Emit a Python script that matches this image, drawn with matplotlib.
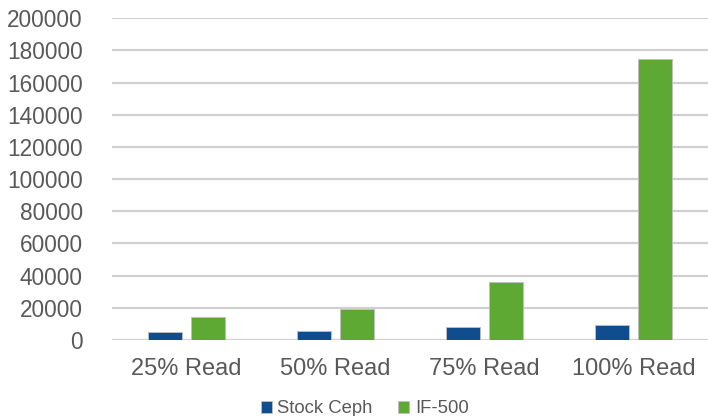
import matplotlib
matplotlib.use("Agg")
import matplotlib.pyplot as plt
import numpy as np

categories = ["25% Read", "50% Read", "75% Read", "100% Read"]
series_names = ["Stock Ceph", "IF-500"]
stock_ceph = [4800, 5800, 7900, 9100]
if_500 = [14100, 19300, 35900, 174500]
y_ticks = list(range(0, 200001, 20000))

plt.rcParams["font.family"] = ["Liberation Sans", "DejaVu Sans"]

fig = plt.figure(figsize=(7.08, 4.16), dpi=100)
ax = fig.add_axes([0.158, 0.1827, 0.842, 0.7733])

x = np.arange(len(categories))
width = 0.228
offset = 0.146
c_ceph = "#0f4d8f"
c_if = "#5ea834"

ax.bar(x - offset, stock_ceph, width, color=c_ceph, edgecolor="#bfbfbf",
       linewidth=0.6, label=series_names[0], zorder=3)
ax.bar(x + offset, if_500, width, color=c_if, edgecolor="#bfbfbf",
       linewidth=0.6, label=series_names[1], zorder=3)

ax.set_xlim(-0.5, len(categories) - 0.5)
ax.set_ylim(0, 200000)
ax.set_yticks(y_ticks)
ax.set_yticklabels([str(v) for v in y_ticks])
ax.set_xticks(x)
ax.set_xticklabels(categories)

ax.grid(axis="y", color="#d0d0d0", linewidth=1.6, zorder=0)
ax.set_axisbelow(True)
for s in ax.spines.values():
    s.set_visible(False)

ax.tick_params(axis="both", length=0, colors="#595959")
ax.tick_params(axis="x", labelsize=17, pad=13)
ax.tick_params(axis="y", labelsize=16.3, pad=21)

fig.legend(loc="center", bbox_to_anchor=(0.515, 0.017), ncol=2, frameon=False,
           fontsize=13.3, handlelength=0.6, handleheight=0.6, handletextpad=0.3,
           columnspacing=1.4, labelcolor="#595959")

fig.savefig("out.png", dpi=100)
